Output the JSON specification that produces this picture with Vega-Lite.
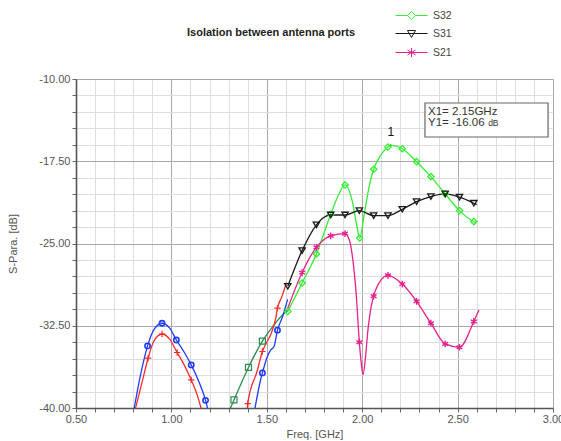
{
  "$schema": "https://vega.github.io/schema/vega-lite/v6.json",
  "width": 477,
  "height": 329,
  "autosize": {"type": "none"},
  "padding": {"left": 76, "top": 79, "right": 8, "bottom": 33},
  "background": "white",
  "config": {
    "view": {"stroke": null},
    "font": "Liberation Sans"
  },
  "title": {
    "text": "Isolation between antenna ports",
    "anchor": "start",
    "frame": "group",
    "dx": 111,
    "offset": -28,
    "fontSize": 11,
    "fontWeight": "bold",
    "color": "#222222",
    "font": "Liberation Sans"
  },
  "datasets": {
    "trace": [
      {"trace": "S32", "f": 1.61, "db": -31.2},
      {"trace": "S32", "f": 1.685, "db": -28.6},
      {"trace": "S32", "f": 1.76, "db": -25.95},
      {"trace": "S32", "f": 1.835, "db": -22.33},
      {"trace": "S32", "f": 1.872, "db": -20.72},
      {"trace": "S32", "f": 1.91, "db": -19.66},
      {"trace": "S32", "f": 1.95, "db": -21.3},
      {"trace": "S32", "f": 1.972, "db": -23.4},
      {"trace": "S32", "f": 1.987, "db": -24.5},
      {"trace": "S32", "f": 2.012, "db": -22.2},
      {"trace": "S32", "f": 2.04, "db": -19.5},
      {"trace": "S32", "f": 2.06, "db": -18.23},
      {"trace": "S32", "f": 2.095, "db": -17.0},
      {"trace": "S32", "f": 2.135, "db": -16.2},
      {"trace": "S32", "f": 2.15, "db": -16.06},
      {"trace": "S32", "f": 2.18, "db": -16.12},
      {"trace": "S32", "f": 2.21, "db": -16.36},
      {"trace": "S32", "f": 2.285, "db": -17.54},
      {"trace": "S32", "f": 2.36, "db": -18.9},
      {"trace": "S32", "f": 2.435, "db": -20.48},
      {"trace": "S32", "f": 2.51, "db": -22.0},
      {"trace": "S32", "f": 2.585, "db": -23.0},
      {"trace": "S32", "f": 2.6, "db": -23.1},

      {"trace": "S31", "f": 1.61, "db": -28.9},
      {"trace": "S31", "f": 1.685, "db": -25.65},
      {"trace": "S31", "f": 1.76, "db": -23.3},
      {"trace": "S31", "f": 1.8, "db": -22.6},
      {"trace": "S31", "f": 1.835, "db": -22.4},
      {"trace": "S31", "f": 1.91, "db": -22.4},
      {"trace": "S31", "f": 1.985, "db": -22.0},
      {"trace": "S31", "f": 2.06, "db": -22.46},
      {"trace": "S31", "f": 2.135, "db": -22.46},
      {"trace": "S31", "f": 2.21, "db": -21.88},
      {"trace": "S31", "f": 2.285, "db": -21.18},
      {"trace": "S31", "f": 2.36, "db": -20.72},
      {"trace": "S31", "f": 2.435, "db": -20.48},
      {"trace": "S31", "f": 2.51, "db": -20.78},
      {"trace": "S31", "f": 2.585, "db": -21.33},
      {"trace": "S31", "f": 2.6, "db": -21.45},

      {"trace": "S21", "f": 1.61, "db": -30.9},
      {"trace": "S21", "f": 1.685, "db": -27.65},
      {"trace": "S21", "f": 1.76, "db": -25.35},
      {"trace": "S21", "f": 1.835, "db": -24.3},
      {"trace": "S21", "f": 1.91, "db": -24.1},
      {"trace": "S21", "f": 1.933, "db": -24.7},
      {"trace": "S21", "f": 1.951, "db": -26.5},
      {"trace": "S21", "f": 1.968, "db": -29.5},
      {"trace": "S21", "f": 1.985, "db": -34.0},
      {"trace": "S21", "f": 1.995, "db": -35.9},
      {"trace": "S21", "f": 2.004, "db": -36.98},
      {"trace": "S21", "f": 2.016, "db": -35.6},
      {"trace": "S21", "f": 2.03, "db": -32.9},
      {"trace": "S21", "f": 2.047, "db": -30.75},
      {"trace": "S21", "f": 2.06, "db": -29.8},
      {"trace": "S21", "f": 2.1, "db": -28.3},
      {"trace": "S21", "f": 2.135, "db": -27.9},
      {"trace": "S21", "f": 2.21, "db": -28.7},
      {"trace": "S21", "f": 2.285, "db": -30.27},
      {"trace": "S21", "f": 2.36, "db": -32.27},
      {"trace": "S21", "f": 2.435, "db": -34.16},
      {"trace": "S21", "f": 2.51, "db": -34.46},
      {"trace": "S21", "f": 2.585, "db": -32.11},
      {"trace": "S21", "f": 2.612, "db": -31.06},

      {"trace": "G", "f": 1.3, "db": -40.4},
      {"trace": "G", "f": 1.328, "db": -39.26},
      {"trace": "G", "f": 1.404, "db": -36.3},
      {"trace": "G", "f": 1.477, "db": -33.9},
      {"trace": "G", "f": 1.53, "db": -32.6},
      {"trace": "G", "f": 1.583, "db": -31.5},
      {"trace": "G", "f": 1.61, "db": -31.1},

      {"trace": "R2", "f": 1.396, "db": -40.4},
      {"trace": "R2", "f": 1.4, "db": -39.6},
      {"trace": "R2", "f": 1.45, "db": -36.6},
      {"trace": "R2", "f": 1.477, "db": -34.85},
      {"trace": "R2", "f": 1.5, "db": -34.0},
      {"trace": "R2", "f": 1.521, "db": -33.3},
      {"trace": "R2", "f": 1.547, "db": -31.8},
      {"trace": "R2", "f": 1.556, "db": -30.9},
      {"trace": "R2", "f": 1.58, "db": -29.8},
      {"trace": "R2", "f": 1.603, "db": -28.56},

      {"trace": "B2", "f": 1.434, "db": -40.4},
      {"trace": "B2", "f": 1.468, "db": -37.4},
      {"trace": "B2", "f": 1.477, "db": -36.8},
      {"trace": "B2", "f": 1.503, "db": -35.3},
      {"trace": "B2", "f": 1.521, "db": -34.7},
      {"trace": "B2", "f": 1.538, "db": -34.4},
      {"trace": "B2", "f": 1.556, "db": -32.9},
      {"trace": "B2", "f": 1.583, "db": -31.66},
      {"trace": "B2", "f": 1.609, "db": -30.1},

      {"trace": "B1", "f": 0.8, "db": -40.5},
      {"trace": "B1", "f": 0.837, "db": -37.1},
      {"trace": "B1", "f": 0.875, "db": -34.34},
      {"trace": "B1", "f": 0.907, "db": -32.9},
      {"trace": "B1", "f": 0.951, "db": -32.27},
      {"trace": "B1", "f": 0.99, "db": -32.7},
      {"trace": "B1", "f": 1.026, "db": -33.8},
      {"trace": "B1", "f": 1.065, "db": -34.85},
      {"trace": "B1", "f": 1.104, "db": -36.07},
      {"trace": "B1", "f": 1.144, "db": -37.6},
      {"trace": "B1", "f": 1.179, "db": -39.3},
      {"trace": "B1", "f": 1.195, "db": -40.4},

      {"trace": "R1", "f": 0.805, "db": -40.5},
      {"trace": "R1", "f": 0.845, "db": -37.74},
      {"trace": "R1", "f": 0.878, "db": -35.46},
      {"trace": "R1", "f": 0.907, "db": -33.94},
      {"trace": "R1", "f": 0.951, "db": -33.25},
      {"trace": "R1", "f": 0.99, "db": -33.7},
      {"trace": "R1", "f": 1.03, "db": -34.94},
      {"trace": "R1", "f": 1.065, "db": -36.0},
      {"trace": "R1", "f": 1.104, "db": -37.44},
      {"trace": "R1", "f": 1.135, "db": -38.8},
      {"trace": "R1", "f": 1.16, "db": -40.3}
    ],
    "samples": [
      {"trace": "S32", "f": 1.61, "db": -31.2},
      {"trace": "S32", "f": 1.685, "db": -28.6},
      {"trace": "S32", "f": 1.76, "db": -25.95},
      {"trace": "S32", "f": 1.835, "db": -22.33},
      {"trace": "S32", "f": 1.91, "db": -19.66},
      {"trace": "S32", "f": 1.987, "db": -24.5},
      {"trace": "S32", "f": 2.06, "db": -18.23},
      {"trace": "S32", "f": 2.135, "db": -16.2},
      {"trace": "S32", "f": 2.21, "db": -16.36},
      {"trace": "S32", "f": 2.285, "db": -17.54},
      {"trace": "S32", "f": 2.36, "db": -18.9},
      {"trace": "S32", "f": 2.435, "db": -20.48},
      {"trace": "S32", "f": 2.51, "db": -22.0},
      {"trace": "S32", "f": 2.585, "db": -23.0},

      {"trace": "S31", "f": 1.61, "db": -28.9},
      {"trace": "S31", "f": 1.685, "db": -25.65},
      {"trace": "S31", "f": 1.76, "db": -23.3},
      {"trace": "S31", "f": 1.835, "db": -22.4},
      {"trace": "S31", "f": 1.91, "db": -22.4},
      {"trace": "S31", "f": 1.985, "db": -22.0},
      {"trace": "S31", "f": 2.06, "db": -22.46},
      {"trace": "S31", "f": 2.135, "db": -22.46},
      {"trace": "S31", "f": 2.21, "db": -21.88},
      {"trace": "S31", "f": 2.285, "db": -21.18},
      {"trace": "S31", "f": 2.36, "db": -20.72},
      {"trace": "S31", "f": 2.435, "db": -20.48},
      {"trace": "S31", "f": 2.51, "db": -20.78},
      {"trace": "S31", "f": 2.585, "db": -21.33},

      {"trace": "S21", "f": 1.685, "db": -27.65},
      {"trace": "S21", "f": 1.76, "db": -25.35},
      {"trace": "S21", "f": 1.835, "db": -24.3},
      {"trace": "S21", "f": 1.91, "db": -24.1},
      {"trace": "S21", "f": 1.985, "db": -34.0},
      {"trace": "S21", "f": 2.06, "db": -29.8},
      {"trace": "S21", "f": 2.135, "db": -27.9},
      {"trace": "S21", "f": 2.21, "db": -28.7},
      {"trace": "S21", "f": 2.285, "db": -30.27},
      {"trace": "S21", "f": 2.36, "db": -32.27},
      {"trace": "S21", "f": 2.435, "db": -34.16},
      {"trace": "S21", "f": 2.51, "db": -34.46},
      {"trace": "S21", "f": 2.585, "db": -32.11},

      {"trace": "G", "f": 1.328, "db": -39.26},
      {"trace": "G", "f": 1.404, "db": -36.3},
      {"trace": "G", "f": 1.477, "db": -33.9},

      {"trace": "R2", "f": 1.4, "db": -39.6},
      {"trace": "R2", "f": 1.477, "db": -34.85},
      {"trace": "R2", "f": 1.556, "db": -30.9},

      {"trace": "B2", "f": 1.477, "db": -36.8},
      {"trace": "B2", "f": 1.556, "db": -32.9},

      {"trace": "B1", "f": 0.875, "db": -34.34},
      {"trace": "B1", "f": 0.951, "db": -32.27},
      {"trace": "B1", "f": 1.026, "db": -33.8},
      {"trace": "B1", "f": 1.104, "db": -36.07},
      {"trace": "B1", "f": 1.179, "db": -39.3},

      {"trace": "R1", "f": 0.878, "db": -35.46},
      {"trace": "R1", "f": 0.951, "db": -33.25},
      {"trace": "R1", "f": 1.03, "db": -34.94},
      {"trace": "R1", "f": 1.104, "db": -37.44}
    ],
    "readout": [
      {"name": "1", "f": 2.15, "db": -16.06}
    ]
  },
  "layer": [
    {
      "data": {"name": "trace"},
      "mark": {"type": "line", "interpolate": "monotone", "strokeWidth": 1.3, "clip": true},
      "encoding": {
        "x": {
          "field": "f",
          "type": "quantitative",
          "scale": {"domain": [0.5, 3.0], "nice": false, "zero": false},
          "axis": {
            "title": "Freq. [GHz]",
            "values": [0.5, 0.6, 0.7, 0.8, 0.9, 1.0, 1.1, 1.2, 1.3, 1.4, 1.5, 1.6, 1.7, 1.8, 1.9, 2.0, 2.1, 2.2, 2.3, 2.4, 2.5, 2.6, 2.7, 2.8, 2.9, 3.0],
            "tickCount": 60,
            "labelExpr": "abs(datum.value*2 - round(datum.value*2)) < 0.01 ? format(datum.value, '.2f') : ''",
            "labelOverlap": false,
            "labelFlush": false,
            "labelFont": "Liberation Sans",
            "labelFontSize": 11,
            "labelColor": "#555555",
            "labelPadding": 1,
            "tickSize": 4,
            "tickColor": "#666666",
            "domainColor": "#555555",
            "domainWidth": 1.6,
            "gridColor": {"condition": {"test": "abs(datum.value*2 - round(datum.value*2)) < 0.01", "value": "#a9a9a9"}, "value": "#dddddd"},
            "titleFont": "Liberation Sans",
            "titleFontSize": 11,
            "titleFontWeight": "normal",
            "titleColor": "#555555",
            "titlePadding": 4
          }
        },
        "y": {
          "field": "db",
          "type": "quantitative",
          "scale": {"domain": [-40, -10], "nice": false, "zero": false},
          "axis": {
            "title": "S-Para. [dB]",
            "values": [-40, -38.5, -37, -35.5, -34, -32.5, -31, -29.5, -28, -26.5, -25, -23.5, -22, -20.5, -19, -17.5, -16, -14.5, -13, -11.5, -10],
            "tickCount": 60,
            "labelExpr": "abs((datum.value+40)/7.5 - round((datum.value+40)/7.5)) < 0.01 ? replace(format(datum.value, '.2f'), '\u2212', '-') : ''",
            "labelOverlap": false,
            "labelFlush": false,
            "labelFont": "Liberation Sans",
            "labelFontSize": 11,
            "labelColor": "#555555",
            "labelPadding": 2,
            "tickSize": 4,
            "tickColor": "#666666",
            "domainColor": "#555555",
            "domainWidth": 1.6,
            "gridColor": {"condition": {"test": "abs((datum.value+40)/7.5 - round((datum.value+40)/7.5)) < 0.01", "value": "#a9a9a9"}, "value": "#dddddd"},
            "titleFont": "Liberation Sans",
            "titleFontSize": 11,
            "titleFontWeight": "normal",
            "titleColor": "#555555",
            "titlePadding": 20
          }
        },
        "detail": {"field": "trace"},
        "color": {
          "field": "trace",
          "type": "nominal",
          "scale": {
            "domain": ["S32", "S31", "S21", "G", "R1", "R2", "B1", "B2"],
            "range": ["#33ee33", "#1a1a1a", "#e8208c", "#2e8b50", "#f52a2a", "#f52a2a", "#1f3cf5", "#1f3cf5"]
          },
          "legend": {
            "orient": "none",
            "legendX": 330,
            "legendY": -69,
            "values": ["S32", "S31", "S21"],
            "title": null,
            "padding": 0,
            "symbolSize": 100,
            "symbolStrokeWidth": 1,
            "labelOffset": 16,
            "labelFont": "Liberation Sans",
            "labelFontSize": 10.5,
            "labelColor": "#444444",
            "rowPadding": 6,
            "encode": {
              "symbols": {
                "update": {
                  "shape": {"signal": "datum.value === 'S32' ? 'M-3.2,0L-0.8,0M0.8,0L3.2,0M0,-0.8L0.8,0L0,0.8L-0.8,0Z' : datum.value === 'S31' ? 'M-3.2,0L3.2,0M-0.8,-0.6L0.8,-0.6L0,0.8Z' : 'M-3.2,0L3.2,0M0,-0.9L0,0.9M-0.8,-0.5L0.8,0.5M-0.8,0.5L0.8,-0.5'"},
                  "fill": {"value": "transparent"},
                  "strokeWidth": {"value": 1}
                }
              }
            }
          }
        }
      }
    },
    {
      "data": {"name": "samples"},
      "transform": [{"filter": {"field": "trace", "equal": "S32"}}],
      "mark": {"type": "point", "shape": "diamond", "filled": false, "strokeWidth": 1.3, "size": 40, "opacity": 1, "clip": true},
      "encoding": {
        "x": {"field": "f", "type": "quantitative"},
        "y": {"field": "db", "type": "quantitative"},
        "color": {"field": "trace", "type": "nominal"}
      }
    },
    {
      "data": {"name": "samples"},
      "transform": [{"filter": {"field": "trace", "equal": "S31"}}],
      "mark": {"type": "point", "shape": "triangle-down", "filled": false, "strokeWidth": 1.3, "size": 40, "opacity": 1, "clip": true},
      "encoding": {
        "x": {"field": "f", "type": "quantitative"},
        "y": {"field": "db", "type": "quantitative"},
        "color": {"field": "trace", "type": "nominal"}
      }
    },
    {
      "data": {"name": "samples"},
      "transform": [{"filter": {"field": "trace", "equal": "S21"}}],
      "mark": {"type": "point", "shape": "M0,-1L0,1M-0.87,-0.5L0.87,0.5M-0.87,0.5L0.87,-0.5", "filled": false, "strokeWidth": 1.4, "size": 45, "opacity": 1, "clip": true},
      "encoding": {
        "x": {"field": "f", "type": "quantitative"},
        "y": {"field": "db", "type": "quantitative"},
        "color": {"field": "trace", "type": "nominal"}
      }
    },
    {
      "data": {"name": "samples"},
      "transform": [{"filter": {"field": "trace", "equal": "G"}}],
      "mark": {"type": "point", "shape": "square", "filled": false, "strokeWidth": 1.2, "size": 36, "opacity": 1, "clip": true},
      "encoding": {
        "x": {"field": "f", "type": "quantitative"},
        "y": {"field": "db", "type": "quantitative"},
        "color": {"field": "trace", "type": "nominal"}
      }
    },
    {
      "data": {"name": "samples"},
      "transform": [{"filter": {"field": "trace", "oneOf": ["R1", "R2"]}}],
      "mark": {"type": "point", "shape": "M-1,0L1,0M0,-1L0,1", "filled": false, "strokeWidth": 1.2, "size": 40, "opacity": 1, "clip": true},
      "encoding": {
        "x": {"field": "f", "type": "quantitative"},
        "y": {"field": "db", "type": "quantitative"},
        "color": {"field": "trace", "type": "nominal"}
      }
    },
    {
      "data": {"name": "samples"},
      "transform": [{"filter": {"field": "trace", "oneOf": ["B1", "B2"]}}],
      "mark": {"type": "point", "shape": "circle", "filled": false, "strokeWidth": 1.6, "size": 28, "opacity": 1, "clip": true},
      "encoding": {
        "x": {"field": "f", "type": "quantitative"},
        "y": {"field": "db", "type": "quantitative"},
        "color": {"field": "trace", "type": "nominal"}
      }
    },
    {
      "data": {"name": "readout"},
      "mark": {"type": "rule", "color": "#333333", "strokeWidth": 1},
      "encoding": {
        "x": {"field": "f", "type": "quantitative"},
        "y": {"field": "db", "type": "quantitative"},
        "y2": {"field": "db"},
        "yOffset": {"value": -1},
        "y2Offset": {"value": -7}
      }
    },
    {
      "data": {"name": "readout"},
      "mark": {"type": "text", "font": "Liberation Sans", "fontSize": 12, "fill": "#111111", "baseline": "bottom", "dy": -6},
      "encoding": {
        "x": {"field": "f", "type": "quantitative"},
        "y": {"field": "db", "type": "quantitative"},
        "text": {"field": "name"}
      }
    },
    {
      "data": {"name": "readout"},
      "mark": {"type": "rect", "fill": "white", "stroke": "#666666", "strokeWidth": 1.2},
      "encoding": {
        "x": {"datum": 2.329},
        "x2": {"datum": 2.974},
        "y": {"datum": -12.19},
        "y2": {"datum": -15.29}
      }
    },
    {
      "data": {"name": "readout"},
      "transform": [
        {"calculate": "'X1= ' + format(datum.f, '.2f') + 'GHz'", "as": "xline"}
      ],
      "mark": {"type": "text", "align": "left", "baseline": "middle", "font": "Liberation Sans", "fontSize": 11.5, "fill": "#333333"},
      "encoding": {
        "x": {"datum": 2.345},
        "y": {"datum": -12.98},
        "text": {"field": "xline"}
      }
    },
    {
      "data": {"name": "readout"},
      "transform": [
        {"calculate": "'Y1= ' + replace(format(datum.db, '.2f'), '\u2212', '-')", "as": "yline"}
      ],
      "mark": {"type": "text", "align": "left", "baseline": "middle", "font": "Liberation Sans", "fontSize": 11.5, "fill": "#333333"},
      "encoding": {
        "x": {"datum": 2.345},
        "y": {"datum": -14.05},
        "text": {"field": "yline"}
      }
    },
    {
      "data": {"name": "readout"},
      "mark": {"type": "text", "align": "left", "baseline": "middle", "font": "Liberation Sans", "fontSize": 8.5, "fill": "#333333", "text": "dB"},
      "encoding": {
        "x": {"datum": 2.66},
        "y": {"datum": -14.0}
      }
    }
  ]
}
